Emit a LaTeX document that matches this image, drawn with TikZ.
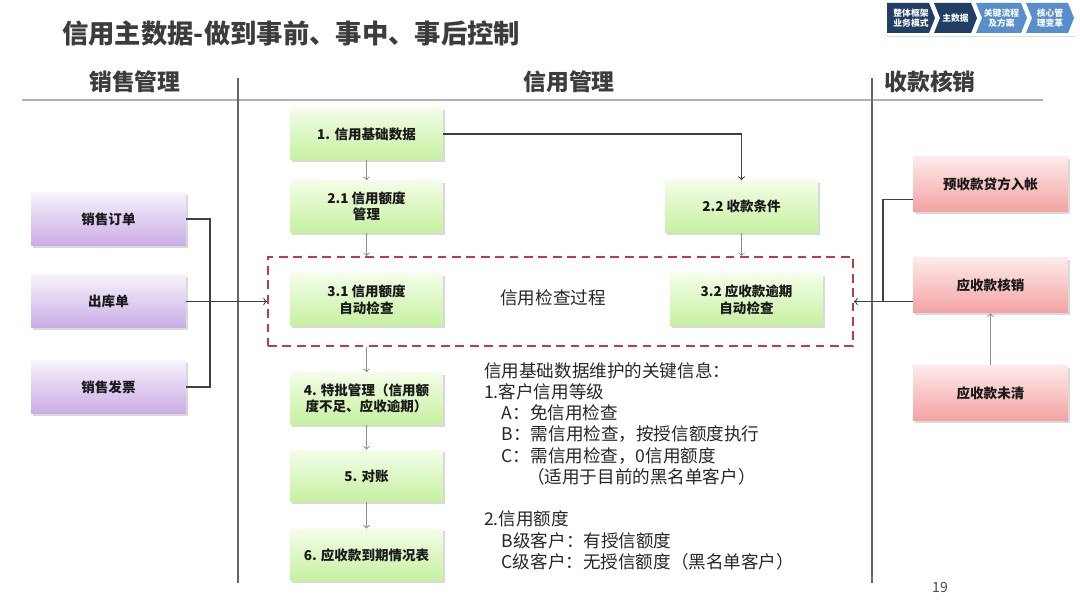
\documentclass[tikz,border=0pt]{standalone}
\usepackage{fontspec}
\setmainfont{Noto Sans CJK SC}
\usepackage{tikz}
\usetikzlibrary{arrows, positioning, shadows, calc}
\definecolor{credtitle}{RGB}{60, 60, 60}
\definecolor{credgreentop}{RGB}{244, 253, 232}
\definecolor{credgreenbot}{RGB}{198, 241, 160}
\definecolor{credpurpletop}{RGB}{247, 242, 252}
\definecolor{credpurplebot}{RGB}{202, 172, 230}
\definecolor{credredtop}{RGB}{253, 234, 234}
\definecolor{credredbot}{RGB}{244, 162, 162}
\definecolor{credborder}{RGB}{190, 60, 70}
\definecolor{navdark}{RGB}{33, 62, 100}
\definecolor{navlight}{RGB}{88, 142, 202}

\begin{document}
\begin{tikzpicture}[
    x=0.02cm, y=-0.02cm,
    every node/.style={font=\fontsize{7.7}{9.4}\selectfont\bfseries, text=black!90},
    shadowed/.style={drop shadow={opacity=0.3, shadow xshift=1.2pt, shadow yshift=-1.2pt}},
    greenbox/.style={shadowed, top color=credgreentop, bottom color=credgreenbot, minimum width=3.06cm, minimum height=1.04cm, align=center},
    salesbox/.style={shadowed, top color=credpurpletop, bottom color=credpurplebot, minimum width=3.1cm, minimum height=1.06cm},
    paybox/.style={shadowed, top color=credredtop, bottom color=credredbot, minimum width=3.1cm, minimum height=1.1cm},
    colhead/.style={font=\fontsize{13}{15}\selectfont\bfseries, text=credtitle},
    link/.style={draw=black!75, line width=0.6pt, >=to},
    flow/.style={->, >=to, draw=black!45, line width=0.5pt}
]
\useasboundingbox (0,0) rectangle (1080,607);

% Title
\node[anchor=west, font=\fontsize{15}{18}\selectfont\bfseries, text=credtitle] (title) at (56,33) {信用主数据-做到事前、事中、事后控制};

% Navigation chevrons
\foreach \x/\w/\n/\col/\txt [count=\i] in {887/42/0/navdark/{整体框架\\业务模式}, 934/37/6/navdark/主数据, 976/45/6/navlight/{关键流程\\及方案}, 1026/42/6/navlight/{核心管\\理变革}} {
    \fill[\col] (\x,3) -- (\x+\w,3) -- (\x+\w+6,18) -- (\x+\w,33) -- (\x,33) -- (\x+\n,18) -- cycle;
    \node[text=white, font=\fontsize{5}{6}\selectfont\bfseries, align=center] (nav\i) at (\x+\w/2+3,18) {\txt};
}
\draw[gray!25, line width=0.5pt] (887,36) -- (1075,36);

% Column headers and rules
\node[colhead] (saleshead) at (135,82) {销售管理};
\node[colhead] (credithead) at (569,82) {信用管理};
\node[colhead] (payhead) at (930,82) {收款核销};
\draw[gray!60, line width=0.6pt] (22,100) -- (1043,100);
\draw[black!60, line width=0.6pt] (238,78) -- (238,583);
\draw[black!60, line width=0.6pt] (872,78) -- (872,583);

% Sales side
\node[salesbox] (order) at (108.5,219) {销售订单};
\node[salesbox] (delivery) at (108.5,301.5) {出库单};
\node[salesbox] (invoice) at (108.5,387) {销售发票};

% Credit check area
\node[draw=credborder, dash pattern=on 5pt off 3.2pt, line width=1.1pt, minimum width=11.7cm, minimum height=1.78cm] (check) at (560.5,301.5) {};
\node[font=\fontsize{10}{12}\selectfont, text=black!85] (checklabel) at (553,298) {信用检查过程};

% Credit steps
\node[greenbox] (b1) at (366.5,134) {1.\,\,信用基础数据};
\node[greenbox] (b21) at (366.5,206.5) {2.1 信用额度\\管理};
\node[greenbox] (b22) at (741.5,206.5) {2.2 收款条件};
\node[greenbox] (b31) at (366.5,300) {3.1 信用额度\\自动检查};
\node[greenbox] (b32) at (746.5,300) {3.2 应收款逾期\\自动检查};
\node[greenbox] (b4) at (366.5,398.5) {4. 特批管理（信用额\\度不足、应收逾期）};
\node[greenbox] (b5) at (366.5,476) {5. 对账};
\node[greenbox] (b6) at (366.5,555) {6. 应收款到期情况表};

% Collection side
\node[paybox] (prepay) at (990.5,184.5) {预收款贷方入帐};
\node[paybox] (writeoff) at (990.5,285.5) {应收款核销};
\node[paybox] (open) at (990.5,393) {应收款未清};

% Key information
\node[anchor=north west, align=left, font=\fontsize{10}{12.1}\selectfont, text=black!85] (info) at (478,356) {%
信用基础数据维护的关键信息：\\
1.客户信用等级\\
\hspace*{1em}A：免信用检查\\
\hspace*{1em}B：需信用检查，按授信额度执行\\
\hspace*{1em}C：需信用检查，0信用额度\\
\hspace*{2.45em}（适用于目前的黑名单客户）\\[12.1pt]
2.信用额度\\
\hspace*{1em}B级客户：有授信额度\\
\hspace*{1em}C级客户：无授信额度（黑名单客户）};

\node[font=\fontsize{8}{10}\selectfont, text=black!70] (pagenum) at (940,587) {19};

% Connectors
\coordinate (salesjoin) at (210,301.5);
\draw[link] (order.east) -| (salesjoin);
\draw[link] (invoice.east) -| (salesjoin);
\draw[link, ->] (delivery.east) -- (check.west);

\draw[flow] (b1) -- (b21);
\draw[flow] (b21.south) -- (b21.south |- check.north);
\draw[flow] (b21.south |- check.south) -- (b4.north);
\draw[flow] (b4) -- (b5);
\draw[flow] (b5) -- (b6);
\draw[link, ->] (b1.east) -| (b22.north);
\draw[flow] (b22.south) -- (b22.south |- check.north);

\coordinate (payjoin) at (883,301.5);
\draw[link] ($(prepay.west)+(0,15)$) -| (payjoin);
\draw[link, ->] ($(writeoff.west)+(0,16)$) -- (check.east);
\draw[flow] (open) -- (writeoff);

\end{tikzpicture}
\end{document}
